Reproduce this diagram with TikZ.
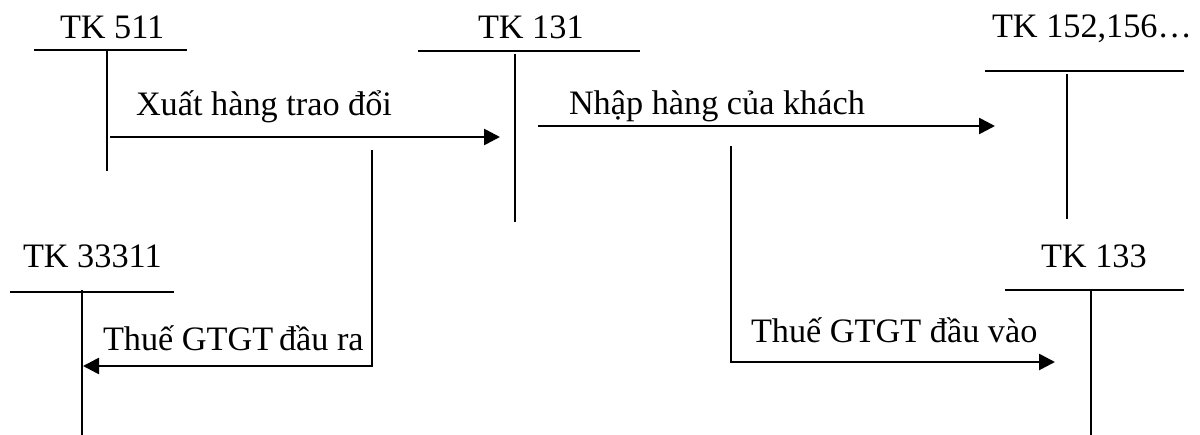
\documentclass[tikz,border=0pt]{standalone}
\usepackage{fontspec}
\setmainfont{Liberation Serif}
\usetikzlibrary{arrows.meta}

\begin{document}
\begin{tikzpicture}[x=0.75pt, y=-0.75pt, >={Triangle[length=12pt,width=12pt]},
  line width=1.5pt, font=\fontsize{25.7}{30}\selectfont,
  acct/.style={anchor=base west, inner sep=0pt},
  flow/.style={->, line width=2pt}]
 \useasboundingbox (0,0) rectangle (1200,435);

 % account names
 \node [acct] (tk511) at (59,39) {TK 511};
 \node [acct] (tk131) at (477,39) {TK 131};
 \node [acct] (tk152) at (991,38) {TK 152,156\ldots};
 \node [acct] (tk133) at (1040,267) {TK 133};
 \node [acct] (tk33311) at (22,267) {TK 33311};

 % T bars
 \coordinate (a511l) at (34,50);   \coordinate (a511r) at (187,50);
 \coordinate (a511t) at (107,50);  \coordinate (a511b) at (107,171);
 \coordinate (a131l) at (418,51);  \coordinate (a131r) at (640,51);
 \coordinate (a131t) at (515,54);  \coordinate (a131b) at (515,222);
 \coordinate (a152l) at (985,71);  \coordinate (a152r) at (1184,71);
 \coordinate (a152t) at (1067,74); \coordinate (a152b) at (1067,219);
 \coordinate (a133l) at (1005,290); \coordinate (a133r) at (1184,290);
 \coordinate (a133t) at (1091,290); \coordinate (a133b) at (1091,435);
 \coordinate (a333l) at (10,292);  \coordinate (a333r) at (174,292);
 \coordinate (a333t) at (82,290);  \coordinate (a333b) at (82,435);

 \foreach \t in {a511,a131,a152,a133,a333}{
   \draw (\t l) -- (\t r);
   \draw (\t t) -- (\t b);
 }

 % entries
 \coordinate (out511) at (110,137); \coordinate (in131) at (500,137);
 \coordinate (out131) at (538,126); \coordinate (in152) at (995,126);
 \coordinate (vat1) at (372,150);  \coordinate (in333) at (83,366);
 \coordinate (vat2) at (731,146);  \coordinate (in133) at (1055,362);

 \draw [flow] (out511) -- (in131);
 \draw [flow] (out131) -- (in152);
 \draw [flow] (vat1) |- (in333);
 \draw [flow] (vat2) |- (in133);

 \node [acct] (xuat) at (135,116) {Xuất hàng trao đổi};
 \node [acct] (nhap) at (568,115) {Nhập hàng của khách};
 \node [acct] (ra) at (102,350) {Thuế GTGT\,đầu ra};
 \node [acct] (vao) at (750,342) {Thuế GTGT đầu vào};
\end{tikzpicture}
\end{document}
